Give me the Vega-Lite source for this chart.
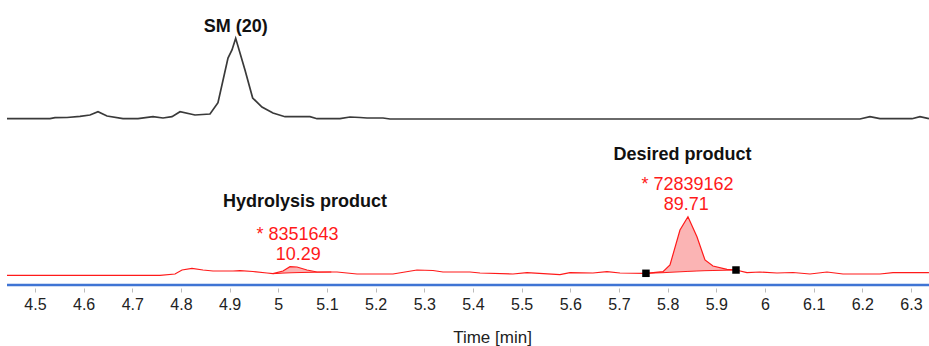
{
  "$schema": "https://vega.github.io/schema/vega-lite/v6.json",
  "autosize": "none",
  "width": 922,
  "height": 285,
  "padding": {"left": 7, "top": 0, "right": 0, "bottom": 61},
  "background": "white",
  "config": {"view": {"stroke": null}, "font": "Liberation Sans"},
  "datasets": {
    "traces": [
      {"trace": "SM", "t": 4.4425, "v": 166.3},
      {"trace": "SM", "t": 4.5309, "v": 166.3},
      {"trace": "SM", "t": 4.5411, "v": 167.3},
      {"trace": "SM", "t": 4.5658, "v": 167.5},
      {"trace": "SM", "t": 4.5925, "v": 168.7},
      {"trace": "SM", "t": 4.6130, "v": 170.0},
      {"trace": "SM", "t": 4.6295, "v": 173.3},
      {"trace": "SM", "t": 4.6480, "v": 169.0},
      {"trace": "SM", "t": 4.6808, "v": 166.3},
      {"trace": "SM", "t": 4.7117, "v": 166.3},
      {"trace": "SM", "t": 4.7425, "v": 168.3},
      {"trace": "SM", "t": 4.7630, "v": 167.0},
      {"trace": "SM", "t": 4.7815, "v": 168.3},
      {"trace": "SM", "t": 4.7980, "v": 173.3},
      {"trace": "SM", "t": 4.8288, "v": 170.0},
      {"trace": "SM", "t": 4.8596, "v": 171.0},
      {"trace": "SM", "t": 4.8760, "v": 182.3},
      {"trace": "SM", "t": 4.8966, "v": 227.0},
      {"trace": "SM", "t": 4.9048, "v": 235.0},
      {"trace": "SM", "t": 4.9124, "v": 246.7},
      {"trace": "SM", "t": 4.9315, "v": 215.0},
      {"trace": "SM", "t": 4.9473, "v": 187.0},
      {"trace": "SM", "t": 4.9664, "v": 178.0},
      {"trace": "SM", "t": 4.9890, "v": 172.0},
      {"trace": "SM", "t": 5.0137, "v": 168.3},
      {"trace": "SM", "t": 5.0651, "v": 168.3},
      {"trace": "SM", "t": 5.0795, "v": 166.3},
      {"trace": "SM", "t": 5.1267, "v": 166.3},
      {"trace": "SM", "t": 5.1473, "v": 168.0},
      {"trace": "SM", "t": 5.1678, "v": 167.5},
      {"trace": "SM", "t": 5.1822, "v": 167.0},
      {"trace": "SM", "t": 5.2151, "v": 167.0},
      {"trace": "SM", "t": 5.2294, "v": 166.0},
      {"trace": "SM", "t": 6.1951, "v": 166.0},
      {"trace": "SM", "t": 6.2157, "v": 168.3},
      {"trace": "SM", "t": 6.2362, "v": 166.3},
      {"trace": "SM", "t": 6.3020, "v": 166.3},
      {"trace": "SM", "t": 6.3184, "v": 168.3},
      {"trace": "SM", "t": 6.3369, "v": 166.3},
      {"trace": "Product", "t": 4.4425, "v": 9.7},
      {"trace": "Product", "t": 4.7569, "v": 9.7},
      {"trace": "Product", "t": 4.7877, "v": 11.0},
      {"trace": "Product", "t": 4.8021, "v": 15.0},
      {"trace": "Product", "t": 4.8226, "v": 16.7},
      {"trace": "Product", "t": 4.8452, "v": 15.0},
      {"trace": "Product", "t": 4.8658, "v": 14.0},
      {"trace": "Product", "t": 4.9069, "v": 14.0},
      {"trace": "Product", "t": 4.9212, "v": 14.3},
      {"trace": "Product", "t": 4.9479, "v": 13.5},
      {"trace": "Product", "t": 4.9767, "v": 12.0},
      {"trace": "Product", "t": 4.9890, "v": 11.3},
      {"trace": "Product", "t": 5.0096, "v": 14.0},
      {"trace": "Product", "t": 5.0240, "v": 18.3},
      {"trace": "Product", "t": 5.0384, "v": 18.0},
      {"trace": "Product", "t": 5.0589, "v": 15.0},
      {"trace": "Product", "t": 5.0795, "v": 13.0},
      {"trace": "Product", "t": 5.1206, "v": 13.0},
      {"trace": "Product", "t": 5.1616, "v": 11.0},
      {"trace": "Product", "t": 5.2356, "v": 11.0},
      {"trace": "Product", "t": 5.2849, "v": 15.0},
      {"trace": "Product", "t": 5.3178, "v": 14.5},
      {"trace": "Product", "t": 5.3383, "v": 13.0},
      {"trace": "Product", "t": 5.3938, "v": 13.0},
      {"trace": "Product", "t": 5.4144, "v": 12.0},
      {"trace": "Product", "t": 5.4822, "v": 11.0},
      {"trace": "Product", "t": 5.5109, "v": 12.3},
      {"trace": "Product", "t": 5.5787, "v": 10.3},
      {"trace": "Product", "t": 5.5993, "v": 12.3},
      {"trace": "Product", "t": 5.6465, "v": 12.0},
      {"trace": "Product", "t": 5.6753, "v": 13.3},
      {"trace": "Product", "t": 5.7020, "v": 12.0},
      {"trace": "Product", "t": 5.7554, "v": 11.7},
      {"trace": "Product", "t": 5.7904, "v": 13.3},
      {"trace": "Product", "t": 5.8048, "v": 20.0},
      {"trace": "Product", "t": 5.8253, "v": 55.0},
      {"trace": "Product", "t": 5.8417, "v": 68.3},
      {"trace": "Product", "t": 5.8602, "v": 48.3},
      {"trace": "Product", "t": 5.8767, "v": 25.0},
      {"trace": "Product", "t": 5.8931, "v": 19.0},
      {"trace": "Product", "t": 5.9219, "v": 15.7},
      {"trace": "Product", "t": 5.9404, "v": 15.0},
      {"trace": "Product", "t": 5.9630, "v": 12.3},
      {"trace": "Product", "t": 5.9897, "v": 13.0},
      {"trace": "Product", "t": 6.0246, "v": 12.0},
      {"trace": "Product", "t": 6.0575, "v": 12.5},
      {"trace": "Product", "t": 6.0924, "v": 11.0},
      {"trace": "Product", "t": 6.1274, "v": 13.0},
      {"trace": "Product", "t": 6.1603, "v": 11.0},
      {"trace": "Product", "t": 6.2362, "v": 11.0},
      {"trace": "Product", "t": 6.2630, "v": 12.3},
      {"trace": "Product", "t": 6.3369, "v": 12.3}
    ],
    "peaks": [
      {"peak": "Hydrolysis", "t": 4.9890, "v": 11.3, "base": 11.3},
      {"peak": "Hydrolysis", "t": 5.0096, "v": 14.0, "base": 11.9},
      {"peak": "Hydrolysis", "t": 5.0240, "v": 18.3, "base": 12.2},
      {"peak": "Hydrolysis", "t": 5.0384, "v": 18.0, "base": 12.4},
      {"peak": "Hydrolysis", "t": 5.0589, "v": 15.0, "base": 12.6},
      {"peak": "Hydrolysis", "t": 5.0795, "v": 13.0, "base": 12.8},
      {"peak": "Hydrolysis", "t": 5.1089, "v": 13.0, "base": 13.0},
      {"peak": "Desired", "t": 5.7554, "v": 11.7, "base": 11.7},
      {"peak": "Desired", "t": 5.7904, "v": 13.3, "base": 12.3},
      {"peak": "Desired", "t": 5.8048, "v": 20.0, "base": 12.7},
      {"peak": "Desired", "t": 5.8253, "v": 55.0, "base": 13.2},
      {"peak": "Desired", "t": 5.8417, "v": 68.3, "base": 13.6},
      {"peak": "Desired", "t": 5.8602, "v": 48.3, "base": 14.0},
      {"peak": "Desired", "t": 5.8767, "v": 25.0, "base": 14.3},
      {"peak": "Desired", "t": 5.8931, "v": 19.0, "base": 14.5},
      {"peak": "Desired", "t": 5.9219, "v": 15.7, "base": 14.8},
      {"peak": "Desired", "t": 5.9404, "v": 15.0, "base": 15.0}
    ],
    "markers": [
      {"t": 5.7554, "v": 11.7},
      {"t": 5.9404, "v": 15.0}
    ],
    "names": [
      {"t": 4.9124, "v": 257.9, "label": "SM (20)"},
      {"t": 5.0548, "v": 82.7, "label": "Hydrolysis product"},
      {"t": 5.8304, "v": 129.7, "label": "Desired product"}
    ],
    "areas": [
      {"t": 5.0394, "v": 50.4, "label": "* 8351643"},
      {"t": 5.0410, "v": 29.7, "label": "10.29"},
      {"t": 5.8407, "v": 99.7, "label": "* 72839162"},
      {"t": 5.8380, "v": 79.7, "label": "89.71"}
    ],
    "axisline": [
      {"v": 0}
    ]
  },
  "encoding": {
    "x": {
      "field": "t",
      "type": "quantitative",
      "scale": {"domain": [4.4425, 6.337], "nice": false, "zero": false},
      "axis": {
        "title": "Time [min]",
        "values": [4.5, 4.6, 4.7, 4.8, 4.9, 5, 5.1, 5.2, 5.3, 5.4, 5.5, 5.6, 5.7, 5.8, 5.9, 6, 6.1, 6.2, 6.3],
        "format": "~g",
        "grid": false,
        "domain": false,
        "offset": 3,
        "tickSize": 4,
        "tickColor": "#bbbbbb",
        "tickWidth": 1,
        "labelFont": "Liberation Sans",
        "labelFontSize": 16,
        "labelColor": "#222222",
        "labelPadding": 4,
        "labelFlush": false,
        "labelOverlap": false,
        "labelBound": false,
        "titleFont": "Liberation Sans",
        "titleFontSize": 17,
        "titleFontWeight": "normal",
        "titleColor": "#222222",
        "titleBaseline": "alphabetic",
        "titleX": 485,
        "titleY": 54
      }
    },
    "y": {
      "field": "v",
      "type": "quantitative",
      "scale": {"domain": [0, 285], "nice": false, "zero": false},
      "axis": null
    }
  },
  "layer": [
    {
      "data": {"name": "peaks"},
      "mark": {"type": "area", "color": "#fbb4b4", "opacity": 1},
      "encoding": {
        "y2": {"field": "base"},
        "detail": {"field": "peak"}
      }
    },
    {
      "data": {"name": "peaks"},
      "mark": {"type": "line", "color": "#ff1a1a", "strokeWidth": 1},
      "encoding": {
        "y": {"field": "base", "type": "quantitative"},
        "detail": {"field": "peak"}
      }
    },
    {
      "data": {"name": "traces"},
      "mark": {"type": "line"},
      "encoding": {
        "color": {
          "field": "trace",
          "type": "nominal",
          "scale": {"domain": ["SM", "Product"], "range": ["#3a3a3a", "#ff1a1a"]},
          "legend": null
        },
        "strokeWidth": {
          "field": "trace",
          "type": "nominal",
          "scale": {"domain": ["SM", "Product"], "range": [1.7, 1.2]},
          "legend": null
        }
      }
    },
    {
      "data": {"name": "axisline"},
      "mark": {"type": "rule", "color": "#3f74d4", "strokeWidth": 2.5},
      "encoding": {"y": {"field": "v", "type": "quantitative"}, "x": null}
    },
    {
      "data": {"name": "markers"},
      "mark": {"type": "square", "color": "black", "filled": true, "opacity": 1, "size": 56}
    },
    {
      "data": {"name": "names"},
      "mark": {"type": "text", "font": "Liberation Sans", "fontSize": 18, "fontWeight": "bold", "color": "#111111", "align": "center", "baseline": "middle"},
      "encoding": {"text": {"field": "label"}}
    },
    {
      "data": {"name": "areas"},
      "mark": {"type": "text", "font": "Liberation Sans", "fontSize": 18, "color": "#ff1a1a", "align": "center", "baseline": "middle"},
      "encoding": {"text": {"field": "label"}}
    }
  ]
}
